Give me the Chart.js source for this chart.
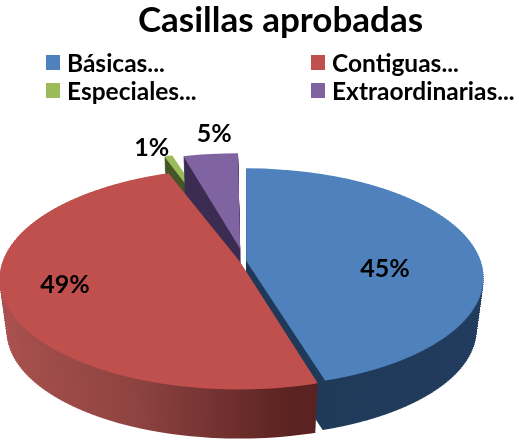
<!DOCTYPE html>
<html>
<head>
<meta charset="utf-8">
<script src="https://cdn.jsdelivr.net/npm/chart.js@4"></script>
<style>
  body { margin: 0; background: #fff; }
  #wrap { position: relative; width: 519px; height: 444px; overflow: hidden; filter: blur(0.45px); }
  #legend div { position: absolute; font: 700 24.5px Lato, sans-serif; color: #000; line-height: 28px; white-space: nowrap; }
  #legend i { position: absolute; left: -21px; top: 6px; width: 14px; height: 15px; }
</style>
</head>
<body>
<div id="wrap">
  <canvas id="pieChart" width="519" height="444"></canvas>
  <div id="legend"></div>
</div>
<script>
const titleText = 'Casillas aprobadas';
const categories = ['Básicas...', 'Contiguas...', 'Especiales...', 'Extraordinarias...'];
const percentValues = [45.4, 49.0, 1.1, 4.5];

const topColors = ['#4f81bd', '#c0504d', '#9bbb59', '#8064a2'];
const wallColors = [
  [[0, '#1e3551'], [1, '#213c5e']],
  [[0, '#ab524f'], [0.3, '#8f4442'], [0.6, '#5a2220'], [1, '#5a2220']],
  [[0, '#445527'], [1, '#445527']],
  [[0, '#3c2c52'], [1, '#3c2c52']]
];
const sliceOffsets = [6, 12, 76, 76];
const paintOrder = [2, 3, 0, 1];

// look of the tilted pie
const pieCx = 244, pieCy = 261, pieRx = 233, pieRy = 106, tilt = 0.152, depth = 53, shrink = 0.03, rowStep = 2;

// percent labels, radial position then a nudge
const labelRadius = [0.62, 0.8, 1.2, 1.3];
const labelNudge = [[0, 17], [5, -4], [-18, -10], [6, -13]];

const legendSpots = [[67, 49], [332, 49], [67, 77], [332, 77]];
const legendEl = document.getElementById('legend');
categories.forEach(function(name, i)
{
    const item = document.createElement('div');
    item.style.left = legendSpots[i][0] + 'px';
    item.style.top = legendSpots[i][1] + 'px';
    item.innerHTML = '<i style="background:' + topColors[i] + '"></i>' + name;
    legendEl.appendChild(item);
});

function paintSlice(ctx, arc, fill, drop, k)
{
    const R = arc.outerRadius;
    const saved = arc.options;
    arc.options = Object.assign({}, saved, { backgroundColor: fill, borderWidth: 0 });
    for (let y = 110; y < 444; y += rowStep)
    {
        const t = (y + rowStep / 2 - drop - pieCy) / k;
        if (t < -125 || t > 135) continue;
        const v = t / (pieRy + tilt * t);
        const w = 1 / (1 - tilt * v);
        const slope = pieRy * w * w;
        const sx = pieRx * k * w / R;
        const sy = k * slope / R;
        ctx.save();
        ctx.beginPath();
        ctx.rect(0, y, 519, rowStep);
        ctx.clip();
        ctx.transform(sx, 0, 0, sy, pieCx - sx * arc.x, y + rowStep / 2 - sy * arc.y - k * slope * v);
        arc.draw(ctx);
        ctx.restore();
    }
    arc.options = saved;
}

const pie3d = {
    id: 'pie3d',
    beforeDatasetsDraw(chart)
    {
        const ctx = chart.ctx;
        const arcs = chart.getDatasetMeta(0).data;
        paintOrder.forEach(function(i)
        {
            const arc = arcs[i];
            const grad = ctx.createLinearGradient(arc.x - arc.outerRadius, 0, arc.x + arc.outerRadius, 0);
            wallColors[i].forEach(function(stop) { grad.addColorStop(stop[0], stop[1]); });
            for (let d = depth; d > 0; d--)
            {
                paintSlice(ctx, arc, grad, d, 1 - shrink * d / depth);
            }
            paintSlice(ctx, arc, topColors[i], 0, 1);
        });
        return false;
    },
    afterDraw(chart)
    {
        const ctx = chart.ctx;
        const arcs = chart.getDatasetMeta(0).data;
        ctx.save();
        ctx.fillStyle = '#000';
        ctx.font = '700 25px Lato, sans-serif';
        ctx.textAlign = 'center';
        ctx.textBaseline = 'middle';
        arcs.forEach(function(arc, i)
        {
            const mid = (arc.startAngle + arc.endAngle) / 2;
            const u = Math.cos(mid) * labelRadius[i];
            const v = Math.sin(mid) * labelRadius[i];
            const w = 1 / (1 - tilt * v);
            const x = pieCx + pieRx * u * w + labelNudge[i][0];
            const y = pieCy + pieRy * v * w + labelNudge[i][1];
            ctx.fillText(Math.round(percentValues[i]) + '%', x, y);
        });
        ctx.restore();
    }
};

const config = {
    type: 'pie',
    data: {
        labels: categories,
        datasets: [{
            data: percentValues,
            backgroundColor: topColors,
            borderWidth: 0,
            offset: sliceOffsets
        }]
    },
    options: {
        responsive: false,
        animation: false,
        layout: { padding: { left: 42 } },
        plugins: {
            legend: { display: false },
            tooltip: { enabled: false },
            title: {
                display: true,
                text: titleText,
                color: '#000',
                font: { family: 'Lato', size: 35, weight: '700' },
                padding: { top: 0, bottom: 6 }
            }
        }
    },
    plugins: [pie3d]
};

new Chart(document.getElementById('pieChart'), config);
</script>
</body>
</html>
